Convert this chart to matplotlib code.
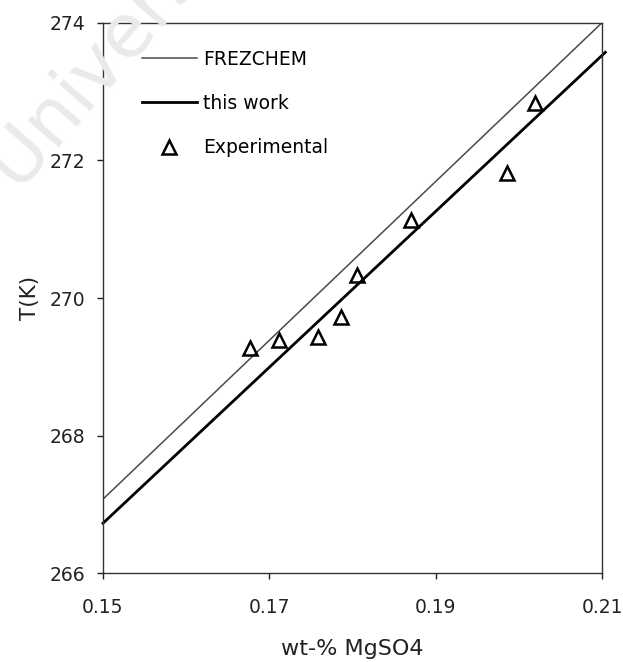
import numpy as np
import matplotlib
matplotlib.use("Agg")
import matplotlib.pyplot as plt

# データ
frez_x = [0.15, 0.21]
frez_T = [267.08, 274.0]

work_x = [0.15, 0.2104]
work_T = [266.73, 273.57]

exp_x = [0.1677, 0.1712, 0.1759, 0.1786, 0.1806, 0.1870, 0.1986, 0.2019]
exp_T = [269.27, 269.39, 269.43, 269.72, 270.34, 271.13, 271.82, 272.84]

x_ticks = [0.15, 0.17, 0.19, 0.21]
x_labels = ["0.15", "0.17", "0.19", "0.21"]
y_ticks = [266, 268, 270, 272, 274]

fig = plt.figure(figsize=(6.23, 6.62), dpi=100)

# 透かし
fig.text(0.030, 0.708, "University of Cape Town", rotation=49,
         rotation_mode="anchor", ha="left", va="baseline",
         fontsize=54, color="#eaeaea", zorder=0)

ax = fig.add_axes([0.1653, 0.1337, 0.801, 0.832])
ax.set_facecolor("none")

ax.plot(frez_x, frez_T, color="#4a4a4a", lw=1.1, label="FREZCHEM")
ax.plot(work_x, work_T, color="black", lw=2.0, label="this work", clip_on=False)
ax.plot(exp_x, exp_T, linestyle="none", marker="^", markersize=9.5,
        markerfacecolor="none", markeredgecolor="black", markeredgewidth=1.8,
        label="Experimental")

ax.set_xlim(0.15, 0.21)
ax.set_ylim(266, 274)
ax.set_xticks(x_ticks)
ax.set_xticklabels(x_labels)
ax.set_yticks(y_ticks)

ax.tick_params(axis="both", direction="out", length=4.5, width=1,
               labelsize=13.5, colors="#222222")
ax.tick_params(axis="x", pad=13)
ax.tick_params(axis="y", pad=8)

for s in ax.spines.values():
    s.set_color("#333333")
    s.set_linewidth(1.0)

ax.set_xlabel("wt-% MgSO4", fontsize=16, labelpad=16, color="#222222")
ax.set_ylabel("T(K)", fontsize=15.5, labelpad=7, color="#222222")

ax.legend(loc="upper left", bbox_to_anchor=(0.060, 0.968), frameon=False,
          fontsize=13.5, borderpad=0, handlelength=2.9, handletextpad=0.35,
          labelspacing=1.35, numpoints=1)

fig.savefig("out.png", dpi=100)
